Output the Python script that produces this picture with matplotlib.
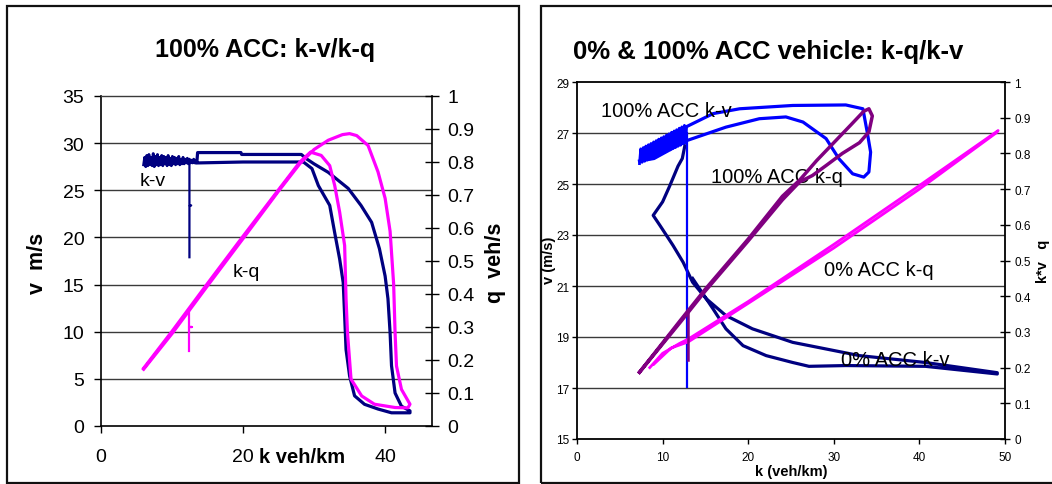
import matplotlib
matplotlib.use("Agg")
import matplotlib.pyplot as plt
from matplotlib.patches import Rectangle

plt.rcParams['font.family'] = ['Liberation Sans', 'DejaVu Sans']

W, H = 1052, 485
fig = plt.figure(figsize=(W / 100, H / 100), dpi=100)

NAVY = '#000080'
MAGENTA = '#FF00FF'
BLUE = '#0000FF'
PURPLE = '#800080'
GRID = '#3a3a3a'

# ---------------- Left chart data: 100% ACC ----------------
kv_cluster_k = [6.0, 6.15, 6.3, 6.45, 6.6, 6.75, 6.9, 7.05, 7.2, 7.35, 7.5, 7.65, 7.8, 7.95, 8.1, 8.25,
                8.4, 8.55, 8.7, 8.85, 9.0, 9.15, 9.3, 9.45, 9.6, 9.75, 9.9, 10.05, 10.2, 10.35, 10.5,
                10.65, 10.8, 10.95, 11.1, 11.25, 11.4, 11.55, 11.7, 11.85, 12.0, 12.15, 12.3, 12.45,
                12.6, 12.75, 12.9, 13.05, 13.2, 13.35, 13.5]
kv_cluster_v = [27.7, 28.5, 27.5, 28.7, 27.6, 28.8, 27.7, 28.5, 27.6, 28.9, 27.5, 28.6, 27.7, 28.8, 27.6, 28.5,
                27.7, 28.7, 27.6, 28.6, 27.8, 28.5, 27.6, 28.7, 27.7, 28.4, 27.6, 28.6, 27.8, 28.5, 27.7,
                28.4, 27.8, 28.6, 27.7, 28.3, 27.8, 28.5, 27.8, 28.3, 27.9, 28.4, 27.8, 28.3, 27.9, 28.2,
                27.9, 28.3, 27.9, 28.2, 28.0]
kv_k = [13.5, 13.6, 19.7, 19.8, 28.2, 29.0,
        30.0, 32.0, 34.8, 36.6, 38.1, 39.2, 40.0, 40.4, 40.7, 40.9, 41.4, 42.3, 43.5, 43.5,
        40.9, 39.0, 37.1, 35.7, 35.0, 34.5, 34.3, 34.1, 33.6, 32.9, 32.2, 30.6, 29.7, 28.5,
        20.0, 13.5]
kv_v = [28.0, 29.0, 29.0, 28.8, 28.8, 28.3,
        27.8, 26.9, 25.2, 23.4, 21.6, 18.8, 15.9, 13.5, 9.9, 6.4, 3.5, 2.1, 1.6, 1.4,
        1.4, 1.8, 2.3, 3.2, 5.3, 8.1, 11.7, 15.2, 17.7, 20.5, 23.4, 25.5, 27.3, 28.0,
        28.0, 27.9]
kv_spike_k = [12.45, 12.45, 12.45, 12.7, 12.45, 12.45]
kv_spike_v = [28.0, 23.6, 23.4, 23.4, 23.3, 17.9]

kq_k = [6.0, 10.0, 15.0, 20.0, 25.0, 28.0, 30.0, 32.0, 34.0, 35.0, 36.0, 37.6, 39.0, 40.0,
        40.7, 41.2, 41.4, 41.6, 42.3, 43.5, 43.2, 41.4, 38.5, 36.7, 35.2, 34.7, 34.5, 34.3,
        33.6, 32.9, 32.2, 31.0, 29.5, 28.0, 25.0, 20.0, 15.0, 10.0, 6.0]
kq_q = [0.172, 0.280, 0.425, 0.568, 0.712, 0.795, 0.838, 0.866, 0.883, 0.886, 0.880, 0.850, 0.770, 0.690,
        0.590, 0.430, 0.283, 0.182, 0.111, 0.066, 0.055, 0.056, 0.066, 0.091, 0.142, 0.283, 0.385, 0.547,
        0.648, 0.729, 0.789, 0.820, 0.830, 0.800, 0.716, 0.575, 0.432, 0.287, 0.175]
kq_spike_k = [12.45, 12.45, 12.8, 12.45, 12.45]
kq_spike_q = [0.344, 0.300, 0.300, 0.300, 0.228]

left_xticks = [0, 20, 40]
left_yticks = [0, 5, 10, 15, 20, 25, 30, 35]
left_y2ticks = [0, 0.1, 0.2, 0.3, 0.4, 0.5, 0.6, 0.7, 0.8, 0.9, 1]
left_y2labels = ['0', '0.1', '0.2', '0.3', '0.4', '0.5', '0.6', '0.7', '0.8', '0.9', '1']

# ---------------- Right chart data: 0% & 100% ACC ----------------
acc100_band_k = [7.3, 7.45, 7.6, 7.75, 7.9, 8.05, 8.2, 8.35, 8.5, 8.65, 8.8, 8.95, 9.1, 9.25, 9.4, 9.55,
                 9.7, 9.85, 10.0, 10.15, 10.3, 10.45, 10.6, 10.75, 10.9, 11.05, 11.2, 11.35, 11.5, 11.65,
                 11.8, 11.95, 12.1, 12.25, 12.4, 12.55, 12.7, 12.8]
acc100_band_v = [25.80, 26.38, 25.85, 26.43, 25.89, 26.49, 25.94, 26.54, 25.98, 26.59, 26.03, 26.65, 26.07,
                 26.70, 26.12, 26.76, 26.16, 26.81, 26.21, 26.86, 26.25, 26.92, 26.30, 26.97, 26.34, 27.03,
                 26.39, 27.08, 26.43, 27.13, 26.48, 27.19, 26.52, 27.24, 26.57, 27.30, 26.61, 27.25]
acc100_kv_k = [12.8, 15.9, 19.0, 25.2, 31.4, 33.4, 33.9, 34.3, 34.1, 33.5, 32.2, 30.6, 29.1, 26.4,
               24.4, 21.3, 17.4, 12.8, 9.0, 7.3]
acc100_kv_v = [27.25, 27.76, 27.95, 28.08, 28.1, 27.95, 27.04, 26.25, 25.47, 25.27, 25.4, 25.99, 26.78, 27.43,
               27.63, 27.56, 27.23, 26.7, 26.0, 25.9]
acc100_spike_k = [12.87, 12.87]
acc100_spike_v = [27.0, 17.03]

acc0_kv_k = [12.6, 12.3, 11.8, 10.8, 10.0, 8.9, 9.7, 11.2, 12.4, 13.5, 15.1, 17.4, 20.5, 25.2,
             29.1, 33.0, 40.7, 49.1, 49.1, 40.7, 31.4, 27.1, 25.2, 22.1, 19.4, 17.4, 15.9, 14.5, 13.5]
acc0_kv_v = [26.5, 26.0, 25.7, 24.9, 24.3, 23.77, 23.37, 22.6, 21.93, 21.15, 20.5, 19.84, 19.32, 18.79,
             18.53, 18.27, 18.0, 17.6, 17.55, 17.85, 17.88, 17.85, 18.0, 18.27, 18.66, 19.32, 20.1, 20.8, 21.3]

acc100_kq_k = [7.3, 12.0, 15.0, 20.0, 24.0, 26.0, 28.0, 30.0, 32.0, 33.5, 34.1, 34.5, 34.1, 33.0,
               31.0, 29.1, 27.5, 26.0, 24.0, 20.0, 15.0, 12.0, 7.3]
acc100_kq_q = [0.187, 0.330, 0.420, 0.560, 0.680, 0.725, 0.780, 0.830, 0.880, 0.918, 0.925, 0.905, 0.860, 0.830,
               0.800, 0.766, 0.738, 0.720, 0.670, 0.555, 0.415, 0.325, 0.187]
acc100_kq_spike_k = [12.95, 12.95]
acc100_kq_spike_q = [0.355, 0.220]

acc0_kq_k = [8.5, 10.0, 12.0, 13.0, 20.0, 30.0, 40.0, 49.2, 49.0, 40.0, 30.0, 20.0, 13.0, 11.0, 9.0]
acc0_kq_q = [0.200, 0.240, 0.268, 0.280, 0.385, 0.545, 0.710, 0.864, 0.858, 0.700, 0.535, 0.380, 0.272, 0.255, 0.210]

right_xticks = [0, 10, 20, 30, 40, 50]
right_yticks = [15, 17, 19, 21, 23, 25, 27, 29]
right_y2ticks = [0, 0.1, 0.2, 0.3, 0.4, 0.5, 0.6, 0.7, 0.8, 0.9, 1]
right_y2labels = ['0', '0.1', '0.2', '0.3', '0.4', '0.5', '0.6', '0.7', '0.8', '0.9', '1']


def fx(px):
    return px / W


def fy(py):
    return 1 - py / H


# ---------------- Panel borders ----------------
fig.patches.append(Rectangle((fx(7), fy(484)), fx(519) - fx(7), fy(7) - fy(484), fill=False,
                             ec='#111111', lw=1.6, transform=fig.transFigure, figure=fig))
fig.patches.append(Rectangle((fx(541), fy(484)), fx(1070) - fx(541), fy(7) - fy(484), fill=False,
                             ec='#111111', lw=1.6, transform=fig.transFigure, figure=fig))

# ---------------- Left chart ----------------
axL = fig.add_axes([fx(101), fy(427), fx(432) - fx(101), fy(97) - fy(427)])
axL.set_xlim(0, 46.6)
axL.set_ylim(0, 35)
axL.set_xticks(left_xticks)
axL.set_yticks(left_yticks)
axL.tick_params(axis='x', direction='out', length=5, width=1, labelsize=14, pad=11)
axL.tick_params(axis='y', direction='out', length=5, width=1, labelsize=14, pad=7)
for y in left_yticks[1:-1]:
    axL.axhline(y, color=GRID, lw=1.0, zorder=0)
for s in ['left', 'bottom']:
    axL.spines[s].set_linewidth(1.2)
axL.spines['top'].set_color(GRID)
axL.spines['top'].set_linewidth(1.0)
axL.spines['right'].set_visible(False)
axL.plot(kv_cluster_k, kv_cluster_v, color=NAVY, lw=2.0, zorder=3)
axL.plot(kv_k, kv_v, color=NAVY, lw=2.3, zorder=3)
axL.plot(kv_spike_k, kv_spike_v, color=NAVY, lw=1.6, zorder=3)

axL2 = axL.twinx()
axL2.set_ylim(0, 1)
axL2.set_yticks(left_y2ticks)
axL2.set_yticklabels(left_y2labels)
axL2.tick_params(axis='y', direction='inout', length=10, width=1, labelsize=14, pad=6)
axL2.spines['right'].set_linewidth(1.2)
for s in ['top', 'left', 'bottom']:
    axL2.spines[s].set_visible(False)
axL2.plot(kq_k, kq_q, color=MAGENTA, lw=2.3, zorder=3)
axL2.plot(kq_spike_k, kq_spike_q, color=MAGENTA, lw=1.6, zorder=3)

fig.text(fx(265), fy(50), '100% ACC: k-v/k-q', ha='center', va='center', fontsize=18, fontweight='bold')
fig.text(fx(302), fy(458), 'k veh/km', ha='center', va='center', fontsize=14.5, fontweight='bold')
fig.text(fx(38), fy(263), 'v  m/s', ha='center', va='center', rotation=90, fontsize=15.5, fontweight='bold')
fig.text(fx(496), fy(263), 'q  veh/s', ha='center', va='center', rotation=90, fontsize=15.5, fontweight='bold')
axL.text(5.5, 26.0, 'k-v', fontsize=14, ha='left', va='center')
axL.text(18.6, 16.4, 'k-q', fontsize=14, ha='left', va='center')

# ---------------- Right chart ----------------
axR = fig.add_axes([fx(577), fy(440), fx(1005) - fx(577), fy(83) - fy(440)])
axR.set_xlim(0, 50)
axR.set_ylim(15, 29)
axR.set_xticks(right_xticks)
axR.set_yticks(right_yticks)
axR.tick_params(axis='x', direction='out', length=3.5, width=1, labelsize=8.5, pad=5)
axR.tick_params(axis='y', direction='out', length=3.5, width=1, labelsize=8.5, pad=2)
for y in right_yticks[1:-1]:
    axR.axhline(y, color=GRID, lw=1.0, zorder=0)
for s in ['left', 'bottom', 'top']:
    axR.spines[s].set_linewidth(1.3)
axR.spines['right'].set_visible(False)
axR.plot(acc0_kv_k, acc0_kv_v, color=NAVY, lw=2.3, zorder=3)
axR.plot(acc100_band_k, acc100_band_v, color=BLUE, lw=2.0, zorder=3)
axR.plot(acc100_kv_k, acc100_kv_v, color=BLUE, lw=2.3, zorder=3)
axR.plot(acc100_spike_k, acc100_spike_v, color=BLUE, lw=1.6, zorder=3)

axR2 = axR.twinx()
axR2.set_ylim(0, 1)
axR2.set_yticks(right_y2ticks)
axR2.set_yticklabels(right_y2labels)
axR2.tick_params(axis='y', direction='inout', length=7, width=1, labelsize=8.5, pad=3)
axR2.spines['right'].set_linewidth(1.3)
for s in ['top', 'left', 'bottom']:
    axR2.spines[s].set_visible(False)
axR2.plot(acc0_kq_k, acc0_kq_q, color=MAGENTA, lw=2.0, zorder=3)
axR2.plot(acc100_kq_k, acc100_kq_q, color=PURPLE, lw=2.5, zorder=4)
axR2.plot(acc100_kq_spike_k, acc100_kq_spike_q, color=PURPLE, lw=1.8, zorder=4)

fig.text(fx(573), fy(52), '0% & 100% ACC vehicle: k-q/k-v', ha='left', va='center', fontsize=18.5,
         fontweight='bold')
fig.text(fx(791), fy(472), 'k (veh/km)', ha='center', va='center', fontsize=10.5, fontweight='bold')
fig.text(fx(549), fy(260), 'v (m/s)', ha='center', va='center', rotation=90, fontsize=10.5, fontweight='bold')
fig.text(fx(1043), fy(261), 'k*v   q', ha='center', va='center', rotation=90, fontsize=10.5, fontweight='bold')
axR.text(2.8, 27.9, '100% ACC k-v', fontsize=14.5, ha='left', va='center')
axR.text(15.6, 25.3, '100% ACC k-q', fontsize=14.5, ha='left', va='center')
axR.text(28.8, 21.66, '0% ACC k-q', fontsize=14.5, ha='left', va='center')
axR.text(30.8, 18.1, '0% ACC k-v', fontsize=14.5, ha='left', va='center')

fig.savefig('out.png', dpi=100)
